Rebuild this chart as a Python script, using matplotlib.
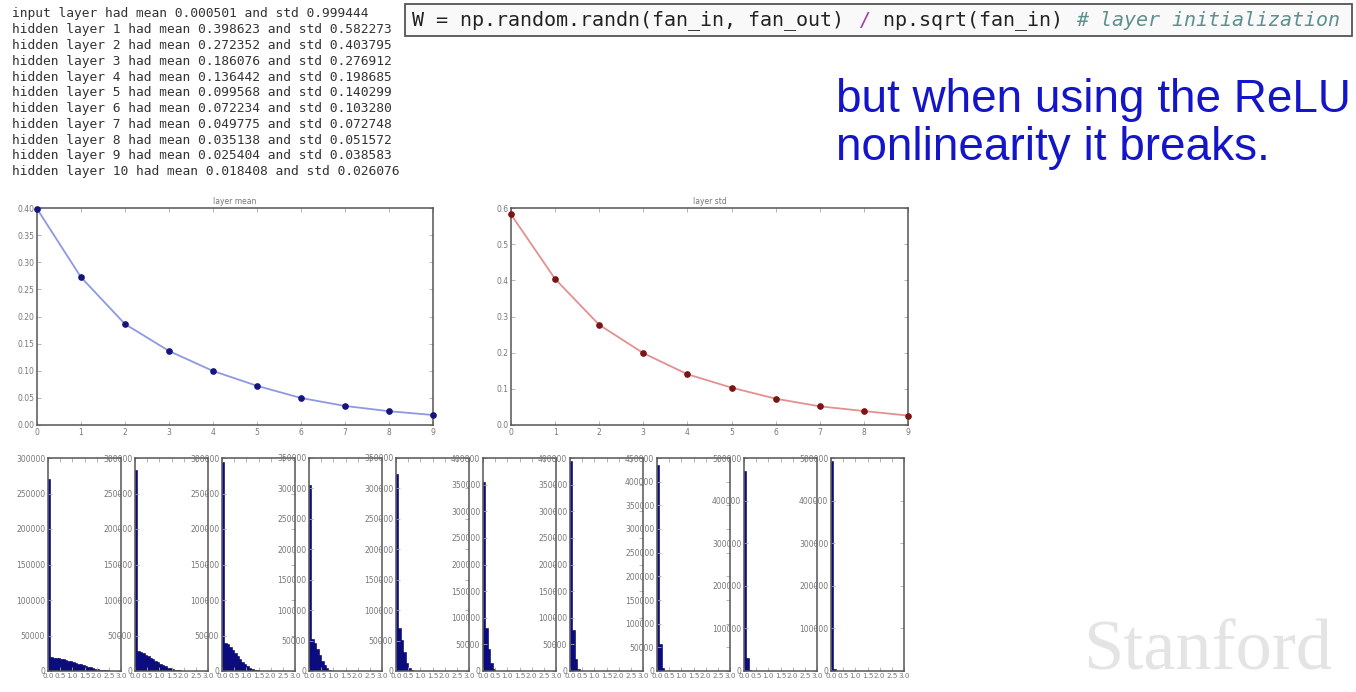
import matplotlib
matplotlib.use("Agg")
import matplotlib.pyplot as plt
from matplotlib.patches import Rectangle
from matplotlib.ticker import FormatStrFormatter
import numpy as np

W, H = 1356, 692

# layer statistics printed in the slide
input_mean, input_std = 0.000501, 0.999444
layer_means = [0.398623, 0.272352, 0.186076, 0.136442, 0.099568,
               0.072234, 0.049775, 0.035138, 0.025404, 0.018408]
layer_stds = [0.582273, 0.403795, 0.276912, 0.198685, 0.140299,
              0.103280, 0.072748, 0.051572, 0.038583, 0.026076]
layer_idx = [0, 1, 2, 3, 4, 5, 6, 7, 8, 9]

# histogram counts per layer (bins of width 0.1 starting at 0)
hist_counts = [
    [270000, 19500, 19000, 18600, 18000, 17300, 16500, 15600, 14600, 13600,
     12500, 11400, 10300, 9200, 8100, 7000, 6000, 5000, 4100, 3300,
     2600, 2000, 1500, 1100, 750, 500, 320, 200, 120, 70],
    [283000, 28000, 26500, 24800, 22800, 20700, 18500, 16300, 14100, 12000,
     10000, 8100, 6400, 4900, 3600, 2600, 1800, 1200, 750, 450,
     260, 150, 80, 40, 20],
    [295000, 40000, 37500, 34000, 30000, 25500, 21000, 16800, 12800, 9400,
     6600, 4400, 2800, 1700, 1000, 550, 280, 130, 60, 20],
    [306000, 52000, 46000, 36000, 26000, 17000, 10000, 5000, 2200, 800, 250, 60],
    [323000, 71000, 51000, 31000, 13000, 5000, 1500, 400, 100],
    [355000, 81500, 41500, 14500, 3500, 600, 100],
    [395000, 77000, 22000, 4000, 500],
    [436000, 57000, 6000, 500],
    [469000, 31000, 1200],
    [494000, 5500, 200],
]
hist_ymax = [300000, 300000, 300000, 350000, 350000,
             400000, 400000, 450000, 500000, 500000]
hist_ystep = [50000, 50000, 50000, 50000, 50000,
              50000, 50000, 50000, 100000, 100000]
bin_width = 0.1
hist_xticks = [0.0, 0.5, 1.0, 1.5, 2.0, 2.5, 3.0]

header = "but when using the ReLU\nnonlinearity it breaks."
code_parts = [("W = np.random.randn(fan_in, fan_out) ", "#222222", "normal"),
              ("/", "#a040a0", "normal"),
              (" np.sqrt(fan_in) ", "#222222", "normal"),
              ("# layer initialization", "#5f8f8f", "italic")]

TICK_C = "#777777"
FRAME_C = "#555555"


def px(x, y):
    return x / W, 1 - y / H


def style_axes(ax):
    for s in ax.spines.values():
        s.set_color(FRAME_C)
        s.set_linewidth(1.1)
    ax.tick_params(direction="in", length=3, width=0.6, colors="#aaaaaa",
                   labelcolor=TICK_C, labelsize=5.5, top=True, right=True, pad=2)


fig = plt.figure(figsize=(W / 100, H / 100), dpi=100)
fig.patch.set_facecolor("white")

# printed log on the top left
lines = [f"input layer had mean {input_mean:.6f} and std {input_std:.6f}"]
for i, (m, s) in enumerate(zip(layer_means, layer_stds)):
    lines.append(f"hidden layer {i + 1} had mean {m:.6f} and std {s:.6f}")
for i, ln in enumerate(lines):
    x, y = px(12, 14 + 15.77 * i)
    fig.text(x, y, ln, family="DejaVu Sans Mono", fontsize=9.3,
             color="#333333", va="center", ha="left")

# code box
bx0, by0 = px(405, 36)
fig.patches.append(Rectangle((bx0, by0), (1352 - 405) / W, 32 / H,
                             transform=fig.transFigure, facecolor="#f9f9f9",
                             edgecolor=FRAME_C, linewidth=1.3))
cw = 12.07
pos = 0
for txt, col, st in code_parts:
    x, y = px(412 + pos * cw, 20)
    fig.text(x, y, txt, family="DejaVu Sans Mono", fontsize=14.4, color=col,
             style=st, va="center", ha="left")
    pos += len(txt)

# blue heading
for i, ln in enumerate(header.split("\n")):
    x, y = px(836, 112 + 48 * i)
    fig.text(x, y, ln, family="Liberation Sans", fontsize=33,
             color="#1414c8", va="baseline", ha="left")

# layer mean / std line plots
ax_m = fig.add_axes([37 / W, 1 - 425 / H, 396 / W, 217 / H])
ax_m.plot(layer_idx, layer_means, "-", color="#8f98e2", lw=1.3, zorder=2)
ax_m.plot(layer_idx, layer_means, "o", color="#15157a", ms=3.8, zorder=3,
          clip_on=False)
ax_m.set_xlim(0, 9)
ax_m.set_ylim(0, 0.40)
ax_m.set_yticks([0.0, 0.05, 0.10, 0.15, 0.20, 0.25, 0.30, 0.35, 0.40])
ax_m.yaxis.set_major_formatter(FormatStrFormatter("%.2f"))
ax_m.set_xticks(layer_idx)
ax_m.set_title("layer mean", fontsize=5.5, color=TICK_C, pad=3)
style_axes(ax_m)

ax_s = fig.add_axes([511 / W, 1 - 425 / H, 397 / W, 217 / H])
ax_s.plot(layer_idx, layer_stds, "-", color="#e39090", lw=1.3, zorder=2)
ax_s.plot(layer_idx, layer_stds, "o", color="#7a1515", ms=3.8, zorder=3,
          clip_on=False)
ax_s.set_xlim(0, 9)
ax_s.set_ylim(0, 0.6)
ax_s.set_yticks([0.0, 0.1, 0.2, 0.3, 0.4, 0.5, 0.6])
ax_s.yaxis.set_major_formatter(FormatStrFormatter("%.1f"))
ax_s.set_xticks(layer_idx)
ax_s.set_title("layer std", fontsize=5.5, color=TICK_C, pad=3)
style_axes(ax_s)

# per-layer activation histograms
for i, (counts, ymax, ystep) in enumerate(zip(hist_counts, hist_ymax, hist_ystep)):
    left = 48 + 87 * i
    ax = fig.add_axes([left / W, 1 - 671 / H, 73 / W, 213 / H])
    lefts = [k * bin_width for k in range(len(counts))]
    ax.bar(lefts, counts, width=bin_width, align="edge",
           facecolor="#0a0a8c", edgecolor="#000050", linewidth=0.4)
    ax.set_xlim(0, 3.0)
    ax.set_ylim(0, ymax)
    ax.set_xticks(hist_xticks)
    ax.xaxis.set_major_formatter(FormatStrFormatter("%.1f"))
    ax.set_yticks(np.arange(0, ymax + 1, ystep))
    ax.yaxis.set_major_formatter(FormatStrFormatter("%d"))
    style_axes(ax)
    ax.tick_params(axis="x", pad=1.5, labelsize=5.2)

# faded logo bottom right
fig.text(1208 / W, 1 - 652 / H, "Stanford", family="Liberation Serif",
         fontsize=52, color="#e4e4e4", ha="center", va="center")

fig.savefig("out.png", dpi=100)
